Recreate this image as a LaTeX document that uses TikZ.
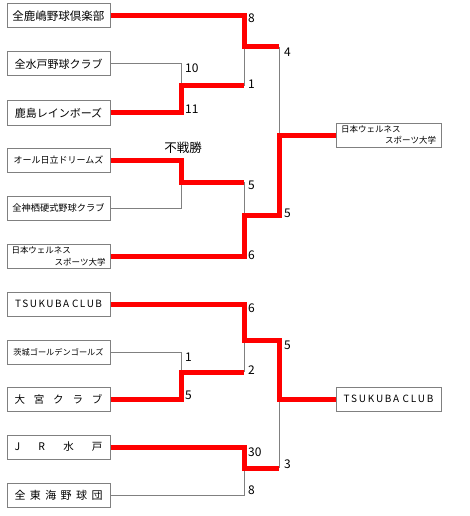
\documentclass[tikz,border=0pt]{standalone}
\usepackage{fontspec}
\setmainfont{Noto Sans CJK JP}
\begin{document}
\begin{tikzpicture}[x=1pt,y=-1pt,
  team/.style={draw=gray, line width=1pt, minimum width=103pt, minimum height=24pt, inner sep=0pt},
  champ/.style={draw=gray, line width=1pt, minimum width=105pt, minimum height=24pt, inner sep=0pt},
  win/.style={draw=red, line width=5pt, line join=miter},
  lose/.style={draw=gray, line width=1pt},
  score/.style={anchor=west, inner sep=0pt, font=\fontsize{12}{12}\selectfont}]
\useasboundingbox (0,0) rectangle (470,516);
% teams
\node[team] (t1) at (58.5,16) {\fontsize{11.5}{12}\selectfont 全鹿嶋野球倶楽部};
\node[team] (t2) at (58.5,64) {\fontsize{11}{12}\selectfont 全水戸野球クラブ};
\node[team] (t3) at (58.5,113) {\fontsize{11}{12}\selectfont 鹿島レインボーズ};
\node[team] (t4) at (58.5,160) {\fontsize{9}{12}\selectfont オール日立ドリームズ};
\node[team] (t5) at (58.5,208) {\fontsize{9.2}{12}\selectfont 全神栖硬式野球クラブ};
\node[team, text width=94pt, align=left, font=\fontsize{8.5}{12}\selectfont] (t6) at (58.5,256) {日本ウェルネス\\\hspace*{\fill}スポーツ大学};
\node[team] (t7) at (58.5,304) {\fontsize{10}{12}\selectfont\makebox[87pt]{T\hfill S\hfill U\hfill K\hfill U\hfill B\hfill A\hfill\hfill C\hfill L\hfill U\hfill B}};
\node[team] (t8) at (58.5,352) {\fontsize{8.2}{12}\selectfont 茨城ゴールデンゴールズ};
\node[team] (t9) at (58.5,399) {\fontsize{10.5}{12}\selectfont\makebox[88pt]{大\hfill 宮\hfill ク\hfill ラ\hfill ブ}};
\node[team] (t10) at (58.5,447) {\fontsize{10.5}{12}\selectfont\makebox[88pt]{J\hfill R\hfill 水\hfill 戸}};
\node[team] (t11) at (58.5,495) {\fontsize{11}{12}\selectfont\makebox[88pt]{全\hfill 東\hfill 海\hfill 野\hfill 球\hfill 団}};
% finalists
\node[champ, text width=95pt, align=left, font=\fontsize{8.5}{11}\selectfont] (c1) at (388.5,135) {日本ウェルネス\\\hspace*{\fill}スポーツ大学};
\node[champ] (c2) at (388.5,399) {\fontsize{10}{12}\selectfont\makebox[90pt]{T\hfill S\hfill U\hfill K\hfill U\hfill B\hfill A\hfill\hfill C\hfill L\hfill U\hfill B}};
% junctions
\coordinate (m23) at (181,86);
\coordinate (m45) at (181,182);
\coordinate (mA) at (244,47);
\coordinate (mB) at (244,215);
\coordinate (sf1) at (279,135);
\coordinate (m89) at (181,372);
\coordinate (mC) at (244,340);
\coordinate (mD) at (244,468);
\coordinate (sf2) at (279,399);
% losing lines
\draw[lose] (t2.east) -| (m23);
\draw[lose] (mA |- m23) -- (mA);
\draw[lose] (sf1 |- mA) -- (sf1);
\draw[lose] (t5.east) -| (m45);
\draw[lose] (mB |- m45) -- (mB);
\draw[lose] (t8.east) -| (m89);
\draw[lose] (mC |- m89) -- (mC);
\draw[lose] (t11.east) -| (mD);
\draw[lose] (sf2 |- mD) -- (sf2);
% winning lines
\draw[win] (t1.east) -| (mA) -- (sf1 |- mA);
\draw[win] (t3.east) -| (m23) -- (mA |- m23);
\draw[win] (t4.east) -| (m45) -- (mB |- m45);
\draw[win] (t6.east) -| (mB) -- (sf1 |- mB) -- (sf1) -- (c1.west);
\draw[win] (t7.east) -| (mC) -- (sf2 |- mC) -- (sf2) -- (c2.west);
\draw[win] (t9.east) -| (m89) -- (mC |- m89);
\draw[win] (t10.east) -| (mD) -- (sf2 |- mD);
% scores
\node[score] (s1) at (248,18) {8};
\node[score] (s2) at (185,68) {10};
\node[score] (s3) at (248,84) {1};
\node[score] (s4) at (185,109) {11};
\node[score] (s5) at (284,52) {4};
\node[inner sep=0pt, font=\fontsize{12.5}{13}\selectfont] (fs) at (183,148) {不戦勝};
\node[score] (s6) at (248,185) {5};
\node[score] (s7) at (284,213) {5};
\node[score] (s8) at (248,255) {6};
\node[score] (s9) at (248,308) {6};
\node[score] (s10) at (284,345) {5};
\node[score] (s11) at (185,357) {1};
\node[score] (s12) at (248,370) {2};
\node[score] (s13) at (185,395) {5};
\node[score] (s14) at (248,452) {30};
\node[score] (s15) at (284,464) {3};
\node[score] (s16) at (248,490) {8};
\end{tikzpicture}
\end{document}
